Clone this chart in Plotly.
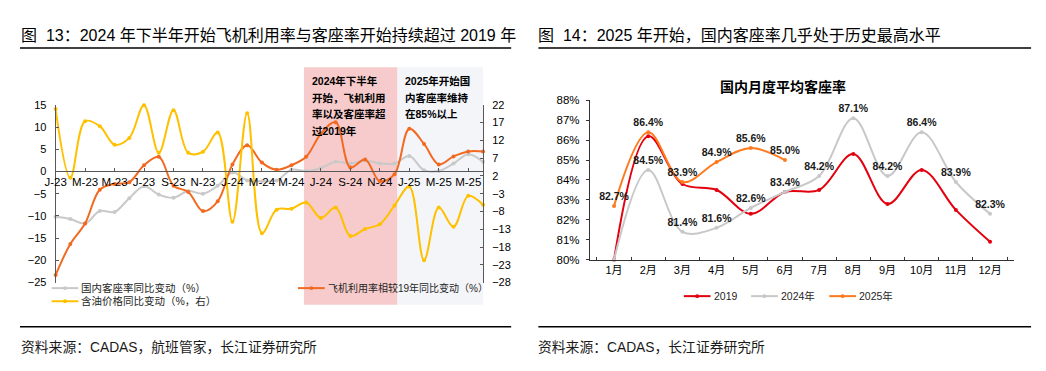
import plotly.graph_objects as go

# ---------------- data: left chart (monthly, Jan-2023 .. Jun-2025) ----------------
month_idx = list(range(30))
tick_idx = list(range(0, 30, 2))
tick_text = ["J-23", "M-23", "M-23", "J-23", "S-23", "N-23", "J-24", "M-24",
             "M-24", "J-24", "S-24", "N-24", "J-25", "M-25", "M-25"]
load_factor_yoy = [-10.2, -10.7, -11.7, -8.9, -9.1, -6.0, -3.3, -5.2, -5.9, -4.4,
                   -5.0, -3.2, -0.2, -2.0, -2.2, -2.0, 0.4, 0.1, 0.8, 2.2,
                   1.8, 2.5, 1.8, 1.8, 3.5, 0.3, 0.1, 1.8, 3.9, 2.2]
utilization_vs19 = [-23.3, -16.3, -11.7, -4.1, -2.8, -2.4, 1.4, 3.3, -3.2, -4.6,
                    -8.9, -6.7, 1.6, 5.9, 2.0, 0.4, 1.4, 3.3, 8.5, 11.1,
                    0.9, 2.7, -2.2, -0.6, 9.6, 6.2, 1.6, 3.4, 4.5, 4.5]
fuel_price_yoy = [20.8, 1.5, 17.4, 16.0, 10.8, 12.7, 21.9, 8.5, 20.5, 8.5,
                  8.8, 14.2, -10.9, 19.6, -14.1, -7.5, -7.2, -5.5, -9.8, -6.9,
                  -14.9, -12.9, -11.6, -6.3, -1.0, -21.7, -6.9, -12.3, -3.6, -6.1]
left_range = [-25, 15]
left_ticks = [-25, -20, -15, -10, -5, 0, 5, 10, 15]
right_range = [-28, 22]
right_ticks = [-28, -23, -18, -13, -8, -3, 2, 7, 12, 17, 22]
shade_2024h2 = [16.85, 23.2]
shade_2025 = [23.2, 29.05]

# ---------------- data: right chart ----------------
months_cn = ["1月", "2月", "3月", "4月", "5月", "6月", "7月", "8月", "9月", "10月", "11月", "12月"]
lf_2019 = [80.0, 86.2, 83.8, 83.5, 82.3, 83.4, 83.5, 85.3, 82.8, 84.5, 82.5, 80.9]
lf_2024 = [80.0, 84.5, 81.4, 81.6, 82.6, 83.4, 84.2, 87.1, 84.2, 86.4, 83.9, 82.3]
lf_2025 = [82.7, 86.4, 83.9, 84.9, 85.6, 85.0]
label_2024 = [""] + [f"{v:.1f}%" for v in lf_2024[1:]]
label_2025 = [f"{v:.1f}%" for v in lf_2025]

# page is 1046x371 with the browser's default 8px body margin around the figure
OFF = 8
W, H = 1046 - 2 * OFF, 371 - 2 * OFF
FONT = "Liberation Sans, Arial, Noto Sans CJK SC, sans-serif"
def px(x): return (x - OFF) / W
def py(y): return 1 - (y - OFF) / H

GRAY, ORANGE, YELLOW = "#C9C9C9", "#F26A21", "#FFC000"
RED, GRAY2, ORANGE2 = "#E3000F", "#C8C8C8", "#FF7A1F"
AXIS = "#595959"

fig = go.Figure()
fig.add_trace(go.Scatter(x=month_idx, y=load_factor_yoy, mode="lines+markers",
                         line=dict(color=GRAY, width=2, shape="spline"),
                         marker=dict(size=4, color=GRAY), cliponaxis=False,
                         xaxis="x", yaxis="y", showlegend=False))
fig.add_trace(go.Scatter(x=month_idx, y=utilization_vs19, mode="lines+markers",
                         line=dict(color=ORANGE, width=2, shape="spline"),
                         marker=dict(size=4, color=ORANGE), cliponaxis=False,
                         xaxis="x", yaxis="y", showlegend=False))
fig.add_trace(go.Scatter(x=month_idx, y=fuel_price_yoy, mode="lines+markers",
                         line=dict(color=YELLOW, width=2, shape="spline"),
                         marker=dict(size=4, color=YELLOW), cliponaxis=False,
                         xaxis="x", yaxis="y2", showlegend=False))

fig.add_trace(go.Scatter(x=months_cn, y=lf_2019, mode="lines+markers",
                         line=dict(color=RED, width=2, shape="spline"),
                         marker=dict(size=4, color=RED), cliponaxis=False,
                         xaxis="x2", yaxis="y3", showlegend=False))
fig.add_trace(go.Scatter(x=months_cn, y=lf_2024, mode="lines+markers+text",
                         text=label_2024, textposition="top center",
                         textfont=dict(size=10.5, color="#1a1a1a", family=FONT, weight="bold"),
                         line=dict(color=GRAY2, width=2, shape="spline"),
                         marker=dict(size=4, color=GRAY2), cliponaxis=False,
                         xaxis="x2", yaxis="y3", showlegend=False))
fig.add_trace(go.Scatter(x=months_cn[:len(lf_2025)], y=lf_2025, mode="lines+markers+text",
                         text=label_2025, textposition="top center",
                         textfont=dict(size=10.5, color="#1a1a1a", family=FONT, weight="bold"),
                         line=dict(color=ORANGE2, width=2, shape="spline"),
                         marker=dict(size=4, color=ORANGE2), cliponaxis=False,
                         xaxis="x2", yaxis="y3", showlegend=False))

ydom_left = [py(286), py(102)]
x_axis_pos = ydom_left[0] + (0 - left_range[0]) / (left_range[1] - left_range[0]) * (ydom_left[1] - ydom_left[0])

tickfont = dict(size=11, color="#000000", family=FONT)
fig.update_layout(
    width=W, height=H, margin=dict(l=0, r=0, t=0, b=0),
    paper_bgcolor="white", plot_bgcolor="rgba(0,0,0,0)",
    font=dict(family=FONT, color="#000000"),
    xaxis=dict(domain=[px(45), px(477)], range=[0, 29], anchor="free", position=x_axis_pos,
               tickvals=tick_idx, ticktext=tick_text, ticks="inside", ticklen=3,
               tickcolor=AXIS, showline=True, linecolor=AXIS, linewidth=1,
               showgrid=False, zeroline=False, tickfont=dict(size=11.5, color="#000", family=FONT)),
    yaxis=dict(domain=ydom_left, range=left_range, tickvals=left_ticks, anchor="x",
               ticks="inside", ticklen=3, tickcolor=AXIS, showline=True, linecolor=AXIS,
               linewidth=1, showgrid=False, zeroline=False, tickfont=tickfont,
               ticklabelstandoff=6),
    yaxis2=dict(overlaying="y", side="right", anchor="x", range=right_range, tickvals=right_ticks,
                ticks="inside", ticklen=3, tickcolor=AXIS, showline=True, linecolor=AXIS,
                linewidth=1, showgrid=False, zeroline=False, tickfont=tickfont,
                ticklabelstandoff=6),
    xaxis2=dict(domain=[px(585), px(1014)], anchor="y3", type="category",
                tickson="boundaries", ticks="inside", ticklen=3, tickcolor="#333",
                showline=True, linecolor="#333", linewidth=1, showgrid=False,
                tickfont=dict(size=11, color="#000", family=FONT)),
    yaxis3=dict(domain=[py(262.3), py(97.3)], anchor="x2", range=[80, 88], dtick=1,
                ticksuffix="%", ticks="outside", ticklen=3, tickcolor="#333",
                showline=True, linecolor="#333", linewidth=1, showgrid=False,
                zeroline=False, tickfont=dict(size=11.5, color="#000", family=FONT),
                ticklabelstandoff=4),
)

shapes = []
# shaded periods
shapes.append(dict(type="rect", xref="x", yref="paper", x0=shade_2024h2[0], x1=shade_2024h2[1],
                   y0=py(309), y1=py(63), fillcolor="#F7CBCB", line=dict(width=0), layer="below"))
shapes.append(dict(type="rect", xref="x", yref="paper", x0=shade_2025[0], x1=shade_2025[1],
                   y0=py(309), y1=py(63), fillcolor="#F3F5F9", line=dict(width=0), layer="below"))
# title underlines and footer lines
for (x0, x1) in [(9, 505.5), (533, 1031)]:
    shapes.append(dict(type="line", xref="paper", yref="paper", x0=px(x0), x1=px(x1),
                       y0=py(43.3), y1=py(43.3), line=dict(color="#000", width=1.5)))
    shapes.append(dict(type="line", xref="paper", yref="paper", x0=px(x0), x1=px(x1),
                       y0=py(331.7), y1=py(331.7), line=dict(color="#000", width=1.5)))

annotations = []
def add_text(x, y, text, size, anchor="left", color="#000", bold=False):
    annotations.append(dict(xref="paper", yref="paper", x=px(x), y=py(y), text=text,
                            showarrow=False, xanchor=anchor, yanchor="middle", borderpad=0,
                            font=dict(size=size, color=color, family=FONT,
                                      weight="bold" if bold else "normal")))

def add_legend_item(x0, y, color, label, size=10.5):
    shapes.append(dict(type="line", xref="paper", yref="paper", x0=px(x0), x1=px(x0 + 27),
                       y0=py(y), y1=py(y), line=dict(color=color, width=2)))
    shapes.append(dict(type="circle", xref="paper", yref="paper", x0=px(x0 + 11.5), x1=px(x0 + 15.5),
                       y0=py(y + 2), y1=py(y - 2), fillcolor=color, line=dict(width=0)))
    add_text(x0 + 29, y, label, size, color="#262626")

add_text(9, 30, "图 \u00a013：2024 年下半年开始飞机利用率与客座率开始持续超过 2019 年", 16)
add_text(532, 30, "图 \u00a014：2025 年开始，国内客座率几乎处于历史最高水平", 16)
add_text(9, 353, "资料来源：CADAS，航班管家，长江证券研究所", 13.8, color="#1a1a1a")
add_text(532, 353, "资料来源：CADAS，长江证券研究所", 13.8, color="#1a1a1a")

for i, line in enumerate(["2024年下半年", "开始，飞机利用", "率以及客座率超", "过2019年"]):
    add_text(303, 77.5 + i * 17.2, line, 10.5, bold=True)
for i, line in enumerate(["2025年开始国", "内客座率维持", "在85%以上"]):
    add_text(397, 77.5 + i * 17.2, line, 10.5, bold=True)

add_legend_item(41, 291.7, GRAY, "国内客座率同比变动（%）", 10.5)
add_legend_item(290, 291.7, ORANGE, "飞机利用率相较19年同比变动（%）", 10)
add_legend_item(41, 305.3, YELLOW, "含油价格同比变动（%，右）", 10.5)

add_text(780, 84, "国内月度平均客座率", 14, anchor="center", bold=True)
add_legend_item(680, 300, RED, "2019")
add_legend_item(748, 300, GRAY2, "2024年")
add_legend_item(827, 300, ORANGE2, "2025年")

fig.update_layout(shapes=shapes, annotations=annotations)

fig.write_html("out.html", config={"displayModeBar": False})
